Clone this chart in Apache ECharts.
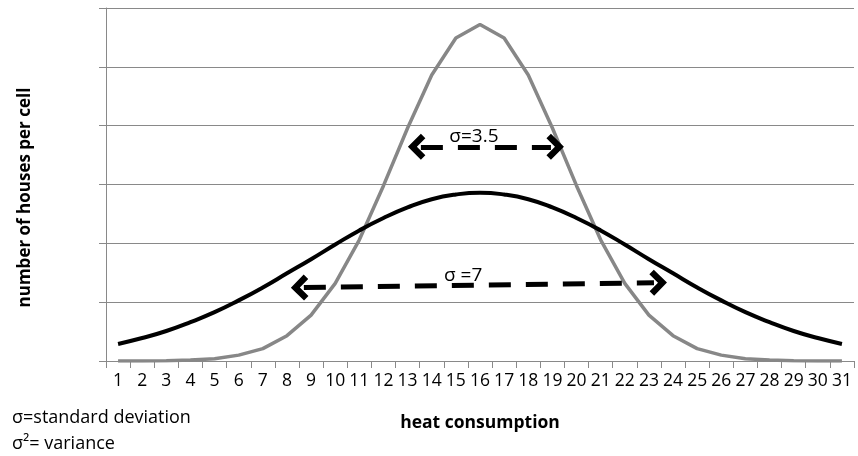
<!DOCTYPE html>
<html>
<head>
<meta charset="utf-8">
<script src="https://cdn.jsdelivr.net/npm/echarts@6/dist/echarts.min.js"></script>
<style>
  html, body { margin: 0; padding: 0; background: #fff; }
  #chart { width: 858px; height: 456px; }
</style>
</head>
<body>
<div id="chart"></div>
<script>
// heat consumption classes 1..31
const categories = Array.from({ length: 31 }, (_, i) => String(i + 1))

// (y axis has 6 unlabelled gridline steps)
const narrowValues = [0.001, 0.002, 0.006, 0.016, 0.04, 0.1, 0.21, 0.43, 0.78, 1.32, 2.06, 2.98, 3.96, 4.86, 5.49, 5.72,
  5.49, 4.86, 3.96, 2.98, 2.06, 1.32, 0.78, 0.43, 0.21, 0.1, 0.04, 0.016, 0.006, 0.002, 0.001]
const wideValues = [0.29, 0.39, 0.51, 0.66, 0.83, 1.03, 1.25, 1.49, 1.73, 1.98, 2.22, 2.43, 2.61, 2.75, 2.83, 2.86,
  2.83, 2.75, 2.61, 2.43, 2.22, 1.98, 1.73, 1.49, 1.25, 1.03, 0.83, 0.66, 0.51, 0.39, 0.29]

// annotation arrows (x in class units, y in axis units)
const arrowNarrow = [[13.55, 3.64], [18.94, 3.64]]
const arrowWide = [[8.7, 1.25], [23.21, 1.33]]
const arrowLabels = [
  { name: 'σ=3.5', value: [15.75, 3.82] },
  { name: 'σ =7', value: [15.3, 1.46] }
]

const FONT = '"Open Sans", "DejaVu Sans", sans-serif'
const GRID_COLOR = '#898989'
// open chevron pointing up, padded to a square box
const chevron = 'path://M0,11 L11,0 L22,11 L18.2,14.8 L11,7.6 L3.8,14.8 Z M11,22 Z'

const myChart = echarts.init(document.getElementById('chart'))
const option = {
  animation: false,
  textStyle: { fontFamily: FONT },
  grid: { left: 106, right: 4, top: 8, bottom: 95 },
  title: [
    { text: 'σ=standard deviation', left: 7, top: 404, textStyle: { fontFamily: FONT, fontSize: 18, fontWeight: 'normal', color: '#000' } },
    { text: 'σ²= variance', left: 7, top: 430, textStyle: { fontFamily: FONT, fontSize: 18, fontWeight: 'normal', color: '#000' } }
  ],
  xAxis: [
    {
      type: 'category',
      data: categories,
      boundaryGap: true,
      axisLine: { lineStyle: { color: GRID_COLOR, width: 1 } },
      axisTick: { show: true, length: 7, lineStyle: { color: GRID_COLOR } },
      axisLabel: { color: '#000', fontSize: 17.5, margin: 11, interval: 0, fontFamily: FONT },
      name: 'heat consumption',
      nameLocation: 'middle',
      nameGap: 53,
      nameTextStyle: { color: '#000', fontSize: 17.5, fontWeight: 'bold', fontFamily: FONT }
    },
    { type: 'value', min: 0.5, max: 31.5, show: false }
  ],
  yAxis: {
    type: 'value',
    min: 0,
    max: 6,
    interval: 1,
    axisLine: { show: true, lineStyle: { color: GRID_COLOR } },
    axisTick: { show: true, length: 7, lineStyle: { color: GRID_COLOR } },
    axisLabel: { show: false },
    splitLine: { lineStyle: { color: GRID_COLOR, width: 1 } },
    name: 'number of houses per cell',
    nameLocation: 'middle',
    nameGap: 72,
    nameRotate: 90,
    nameTextStyle: { color: '#000', fontSize: 17, fontWeight: 'bold', fontFamily: FONT, padding: [0, 26, 0, 0] }
  },
  series: [
    {
      name: 'σ=3.5',
      type: 'line',
      data: narrowValues,
      showSymbol: false,
      symbol: 'none',
      lineStyle: { color: '#878787', width: 3.5 },
      z: 2
    },
    {
      name: 'σ=7',
      type: 'line',
      data: wideValues,
      smooth: true,
      showSymbol: false,
      symbol: 'none',
      lineStyle: { color: '#000', width: 4 },
      z: 3
    },
    {
      type: 'lines',
      coordinateSystem: 'cartesian2d',
      xAxisIndex: 1,
      yAxisIndex: 0,
      symbol: [chevron, chevron],
      symbolSize: 26,
      lineStyle: { color: '#000', width: 5, type: [22, 15], opacity: 1 },
      data: [{ coords: arrowNarrow }, { coords: arrowWide }],
      z: 4
    },
    {
      type: 'scatter',
      xAxisIndex: 1,
      yAxisIndex: 0,
      symbolSize: 0,
      itemStyle: { opacity: 1 },
      data: arrowLabels,
      label: {
        show: true,
        position: 'inside',
        formatter: '{b}',
        color: '#000',
        opacity: 1,
        fontSize: 19,
        fontFamily: FONT
      },
      z: 5
    }
  ]
}
option && myChart.setOption(option)
</script>
</body>
</html>
